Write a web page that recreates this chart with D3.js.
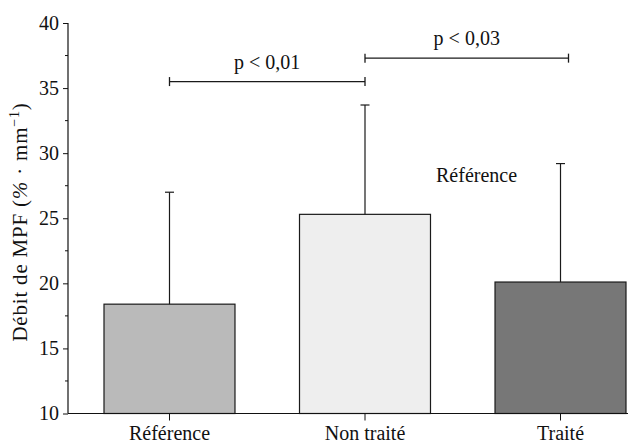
<!DOCTYPE html>
<meta charset="utf-8">
<style>
  html, body { margin: 0; padding: 0; background: #fff; }
  svg, svg text { font-family: "Liberation Serif", "Times New Roman", Times, serif !important; }
  svg text { fill: #111; }
  .bar { stroke: #1a1a1a; stroke-width: 1.2px; }
  .err { stroke: #1a1a1a; stroke-width: 1.2px; }
  .brk { stroke: #1a1a1a; stroke-width: 1.3px; }
</style>
<body>
</body>
<script src="https://cdn.jsdelivr.net/npm/d3@7/dist/d3.min.js"></script>
<script>

  var width = 636, height = 445;

  // data
  var groups = ["Référence", "Non traité", "Traité"];
  var means = [18.4, 25.3, 20.1];
  var upper = [27.0, 33.7, 29.2];     // mean + SD, error caps
  var fills = ["#bababa", "#eeeeee", "#777777"];
  var yTicks = [10, 15, 20, 25, 30, 35, 40];

  // significance brackets: from group, to group, height, label
  var brFrom = ["Référence", "Non traité"];
  var brTo = ["Non traité", "Traité"];
  var brY = [35.5, 37.3];
  var brLabel = ["p < 0,01", "p < 0,03"];

  var svg = d3.select("body").append("svg")
      .attr("width", width)
      .attr("height", height);

  var y = d3.scaleLinear().domain([10, 40]).range([413.5, 23]);
  var x = d3.scaleBand().domain(groups).range([104, 626])
      .paddingInner(0.33).paddingOuter(0);
  var cx = d => x(d) + x.bandwidth() / 2;

  /* bars */
  svg.selectAll(".bar")
      .data(groups)
      .enter().append("rect")
      .attr("class", "bar")
      .attr("x", d => x(d))
      .attr("y", (d, i) => y(means[i]))
      .attr("width", x.bandwidth())
      .attr("height", (d, i) => y(10) - y(means[i]))
      .attr("fill", (d, i) => fills[i]);

  /* error bars, upper only */
  svg.selectAll(".err-v")
      .data(groups)
      .enter().append("line")
      .attr("class", "err")
      .attr("x1", d => cx(d)).attr("x2", d => cx(d))
      .attr("y1", (d, i) => y(means[i]))
      .attr("y2", (d, i) => y(upper[i]));
  svg.selectAll(".err-c")
      .data(groups)
      .enter().append("line")
      .attr("class", "err")
      .attr("x1", d => cx(d) - 4.5).attr("x2", d => cx(d) + 4.5)
      .attr("y1", (d, i) => y(upper[i]))
      .attr("y2", (d, i) => y(upper[i]));

  /* y axis */
  var yAxis = svg.append("g")
      .attr("transform", "translate(68,0)")
      .call(d3.axisLeft(y).tickValues(yTicks).tickSize(5).tickPadding(4));
  yAxis.attr("font-family", null).attr("font-size", null);
  yAxis.select(".domain").attr("d", "M0," + y(10) + "V" + y(40)).attr("stroke", "#111").attr("stroke-width", 1.2);
  yAxis.selectAll("line").attr("stroke", "#111");
  yAxis.selectAll("text").style("font-size", "20px");

  // minor ticks
  svg.append("g")
      .attr("transform", "translate(68,0)")
      .selectAll("line")
      .data(d3.range(12.5, 40, 5))
      .enter().append("line")
      .attr("x1", -3).attr("x2", 0)
      .attr("y1", d => y(d)).attr("y2", d => y(d))
      .attr("stroke", "#111");

  /* x axis */
  var xAxis = svg.append("g")
      .attr("transform", "translate(0," + y(10) + ")")
      .call(d3.axisBottom(x).tickSize(7).tickPadding(5));
  xAxis.attr("font-family", null).attr("font-size", null);
  xAxis.select(".domain").attr("d", "M68,0H628").attr("stroke", "#111").attr("stroke-width", 1.2);
  xAxis.selectAll("line").attr("stroke", "#111");
  xAxis.selectAll("text").style("font-size", "20px");

  /* y title */
  var title = svg.append("text")
      .attr("transform", "translate(27,222) rotate(-90)")
      .attr("text-anchor", "middle")
      .style("font-size", "21px")
      .style("letter-spacing", "0.8px");
  title.append("tspan").text("Débit de MPF (");
  title.append("tspan").style("font-style", "italic").text("%");
  title.append("tspan").text(" · mm");
  title.append("tspan").attr("dy", -8).style("font-size", "14px").text("−1");
  title.append("tspan").attr("dy", 8).text(")");

  /* brackets */
  var br = svg.selectAll(".br")
      .data(brY)
      .enter().append("g");
  br.append("line").attr("class", "brk")
      .attr("x1", (d, i) => cx(brFrom[i])).attr("x2", (d, i) => cx(brTo[i]) + (i == 1 ? 8 : 0))
      .attr("y1", d => y(d)).attr("y2", d => y(d));
  br.append("line").attr("class", "brk")
      .attr("x1", (d, i) => cx(brFrom[i])).attr("x2", (d, i) => cx(brFrom[i]))
      .attr("y1", d => y(d) - 4.5).attr("y2", d => y(d) + 4.5);
  br.append("line").attr("class", "brk")
      .attr("x1", (d, i) => cx(brTo[i]) + (i == 1 ? 8 : 0)).attr("x2", (d, i) => cx(brTo[i]) + (i == 1 ? 8 : 0))
      .attr("y1", d => y(d) - 4.5).attr("y2", d => y(d) + 4.5);
  br.append("text")
      .attr("x", (d, i) => (cx(brFrom[i]) + cx(brTo[i]) + (i == 1 ? 8 : 0)) / 2)
      .attr("y", d => y(d) - 13)
      .attr("text-anchor", "middle")
      .style("font-size", "20px")
      .text((d, i) => brLabel[i]);

  /* in-plot legend text */
  svg.append("text")
      .attr("x", 436).attr("y", 182)
      .style("font-size", "20px")
      .text("Référence");

</script>
